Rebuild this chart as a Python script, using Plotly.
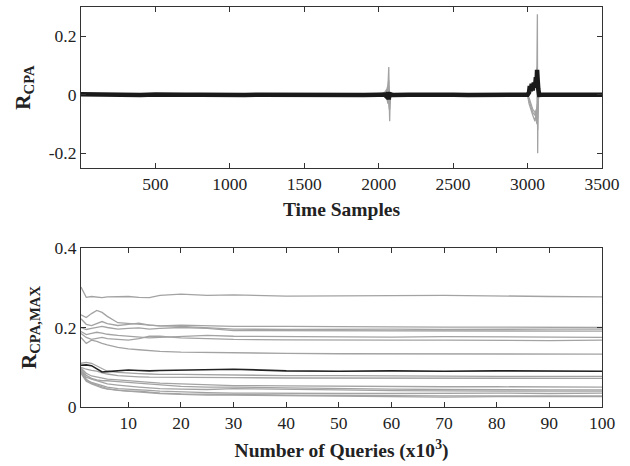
import plotly.graph_objects as go
from plotly.subplots import make_subplots

# ---- top panel: R_CPA vs time samples ----
black_t = ([1] + list(range(100, 2001, 100))
           + [2040, 2050, 2056, 2060, 2064, 2068, 2072, 2076, 2085]
           + list(range(2100, 3001, 100))
           + [3010, 3015, 3022, 3028, 3035, 3042, 3050, 3056, 3060, 3064, 3068, 3072, 3078]
           + list(range(3100, 3501, 100)))
black_r = ([0.002, 0.0005, -0.0008, 0.0006, -0.0004, 0.0007, -0.001, 0.0004, 0.0006, -0.0005, 0.0003,
            -0.0007, 0.0006, 0.0, -0.0004, 0.0006, -0.0003, 0.0004, 0.0006, -0.0006, 0.0003]
           + [0.001, -0.004, 0.006, -0.012, 0.010, -0.016, 0.008, -0.004, 0.0005]
           + [-0.0004, 0.0006, -0.0006, 0.0003, 0.0006, -0.0003, 0.0004, -0.0006, 0.0005, 0.0]
           + [0.008, 0.030, 0.012, 0.038, 0.015, 0.042, 0.025, 0.060, 0.030, 0.085, 0.050, 0.020, 0.0]
           + [0.0006, -0.0003, 0.0004, -0.0006, 0.0003])

gray_t = [1, 2000, 2030, 2045, 2055, 2062, 2068, 2071, 2074, 2078, 2090,
          3000, 3010, 3020, 3035, 3050, 3058, 3063, 3066, 3068, 3071, 3075, 3090, 3500]
gray_r = [
    [0, 0, 0, 0.005, 0.01, 0.02, 0.095, -0.02, -0.09, 0, 0,
     0, 0.01, 0.02, 0.03, 0.04, 0.06, 0.10, 0.275, -0.20, 0.02, 0, 0, 0],
    [0, 0, 0.005, 0.01, 0.02, 0.03, 0.05, -0.03, -0.05, 0, 0,
     0, -0.01, -0.03, -0.05, -0.06, -0.08, -0.10, -0.06, -0.12, -0.02, 0, 0, 0],
    [0, 0, 0, 0.01, 0.015, 0.02, 0.03, -0.02, -0.03, 0, 0,
     0, -0.02, -0.04, -0.06, -0.07, -0.05, -0.08, 0.05, -0.08, 0, 0, 0, 0],
    [0, 0, 0, 0, 0.01, -0.02, 0.02, -0.04, -0.02, 0, 0,
     0, 0.02, 0.03, 0.02, 0.04, 0.06, 0.09, 0.02, -0.05, 0, 0, 0, 0],
    [0, 0, 0, 0.005, -0.01, -0.03, -0.01, -0.05, 0.0, 0, 0,
     0, -0.03, -0.05, -0.07, -0.09, -0.06, -0.04, -0.03, -0.06, 0, 0, 0, 0],
]

# ---- bottom panel: R_CPA,MAX vs number of queries (x10^3) ----
queries = [1, 2, 3, 4, 5, 6, 8, 10, 12, 14, 16, 20, 25, 30, 40, 50, 60, 70, 80, 90, 100]
rmax_gray = [
    [0.302, 0.276, 0.278, 0.276, 0.275, 0.277, 0.277, 0.278, 0.276, 0.275, 0.281, 0.284, 0.281, 0.282, 0.279, 0.279, 0.280, 0.281, 0.279, 0.278, 0.277],
    [0.232, 0.225, 0.235, 0.243, 0.238, 0.228, 0.212, 0.210, 0.208, 0.205, 0.204, 0.206, 0.205, 0.203, 0.203, 0.202, 0.202, 0.201, 0.201, 0.200, 0.200],
    [0.222, 0.208, 0.205, 0.210, 0.215, 0.210, 0.205, 0.208, 0.211, 0.206, 0.204, 0.203, 0.200, 0.196, 0.195, 0.196, 0.196, 0.195, 0.196, 0.196, 0.196],
    [0.200, 0.195, 0.198, 0.200, 0.203, 0.200, 0.196, 0.198, 0.199, 0.196, 0.198, 0.200, 0.198, 0.192, 0.192, 0.192, 0.191, 0.192, 0.191, 0.192, 0.191],
    [0.190, 0.182, 0.185, 0.188, 0.186, 0.183, 0.180, 0.178, 0.176, 0.174, 0.175, 0.178, 0.180, 0.178, 0.177, 0.176, 0.176, 0.177, 0.176, 0.175, 0.175],
    [0.185, 0.175, 0.170, 0.172, 0.175, 0.172, 0.170, 0.168, 0.172, 0.178, 0.178, 0.174, 0.172, 0.170, 0.169, 0.168, 0.168, 0.168, 0.167, 0.167, 0.168],
    [0.175, 0.160, 0.168, 0.165, 0.160, 0.156, 0.150, 0.146, 0.144, 0.142, 0.140, 0.138, 0.137, 0.136, 0.135, 0.134, 0.134, 0.134, 0.134, 0.133, 0.133],
    [0.110, 0.112, 0.110, 0.104, 0.096, 0.090, 0.087, 0.085, 0.084, 0.083, 0.082, 0.082, 0.081, 0.080, 0.079, 0.079, 0.078, 0.078, 0.077, 0.077, 0.077],
    [0.100, 0.095, 0.092, 0.090, 0.086, 0.083, 0.079, 0.077, 0.076, 0.075, 0.075, 0.074, 0.074, 0.074, 0.073, 0.073, 0.072, 0.072, 0.072, 0.072, 0.072],
    [0.098, 0.085, 0.078, 0.075, 0.072, 0.070, 0.068, 0.066, 0.064, 0.062, 0.060, 0.058, 0.056, 0.054, 0.053, 0.052, 0.052, 0.051, 0.051, 0.051, 0.050],
    [0.095, 0.080, 0.072, 0.068, 0.066, 0.066, 0.064, 0.062, 0.060, 0.058, 0.055, 0.052, 0.050, 0.050, 0.048, 0.046, 0.045, 0.044, 0.043, 0.043, 0.043],
    [0.092, 0.075, 0.070, 0.066, 0.062, 0.058, 0.055, 0.052, 0.050, 0.048, 0.046, 0.045, 0.044, 0.046, 0.045, 0.043, 0.041, 0.040, 0.040, 0.040, 0.040],
    [0.088, 0.068, 0.062, 0.058, 0.054, 0.050, 0.046, 0.045, 0.044, 0.042, 0.040, 0.038, 0.036, 0.035, 0.034, 0.034, 0.034, 0.035, 0.035, 0.034, 0.035],
    [0.085, 0.065, 0.058, 0.052, 0.048, 0.045, 0.042, 0.040, 0.040, 0.038, 0.035, 0.033, 0.032, 0.031, 0.030, 0.029, 0.028, 0.028, 0.028, 0.028, 0.028],
    [0.090, 0.070, 0.060, 0.055, 0.050, 0.046, 0.042, 0.040, 0.038, 0.036, 0.034, 0.032, 0.030, 0.030, 0.029, 0.028, 0.026, 0.025, 0.026, 0.026, 0.026],
]
rmax_black = [0.105, 0.106, 0.104, 0.095, 0.088, 0.089, 0.091, 0.093, 0.092, 0.091, 0.092, 0.093, 0.094, 0.095, 0.091, 0.090, 0.091, 0.090, 0.091, 0.090, 0.090]

FONT = "Liberation Serif"
GRAY = "#a3a3a3"
XTITLE_FONT = dict(family=FONT, size=19.5, color="#222222")
YTITLE_FONT = dict(family=FONT, size=21, color="#222222")

fig = make_subplots(rows=2, cols=1, vertical_spacing=0.2)

for ys in gray_r:
    fig.add_trace(go.Scatter(x=gray_t, y=ys, mode="lines",
                             line=dict(color=GRAY, width=1.3)), row=1, col=1)
fig.add_trace(go.Scatter(x=black_t, y=black_r, mode="lines",
                         line=dict(color="#1a1a1a", width=4.5)), row=1, col=1)

for ys in rmax_gray:
    fig.add_trace(go.Scatter(x=queries, y=ys, mode="lines",
                             line=dict(color=GRAY, width=1.3)), row=2, col=1)
fig.add_trace(go.Scatter(x=queries, y=rmax_black, mode="lines",
                         line=dict(color="#222222", width=1.6)), row=2, col=1)

axis_style = dict(showline=True, linecolor="#333333", linewidth=1.2, mirror="ticks",
                  ticks="inside", ticklen=5, tickcolor="#333333", showgrid=False,
                  zeroline=False, automargin=False,
                  tickfont=dict(family=FONT, size=17.5, color="#222222"))

fig.update_xaxes(**axis_style)
fig.update_yaxes(**axis_style)

fig.update_xaxes(range=[1, 3500], tickvals=[500, 1000, 1500, 2000, 2500, 3000, 3500],
                 title=dict(text="<b>Time Samples</b>", standoff=9, font=XTITLE_FONT),
                 row=1, col=1)
fig.update_yaxes(range=[-0.25, 0.3], tickvals=[-0.2, 0, 0.2], ticktext=["-0.2", "0", "0.2"],
                 title=dict(text="<b>R<sub>CPA</sub></b>", standoff=12, font=YTITLE_FONT),
                 domain=[0.5975, 1], row=1, col=1)
fig.update_xaxes(range=[1, 100], tickvals=list(range(10, 101, 10)),
                 title=dict(text="<b>Number of Queries (x10<sup>3</sup>)</b>", standoff=11,
                            font=XTITLE_FONT),
                 row=2, col=1)
fig.update_yaxes(range=[0, 0.4], tickvals=[0, 0.2, 0.4], ticktext=["0", "0.2", "0.4"],
                 title=dict(text="<b>R<sub>CPA,MAX</sub></b>", standoff=12, font=YTITLE_FONT),
                 domain=[0, 0.3975], row=2, col=1)

fig.update_layout(width=630, height=466, showlegend=False,
                  margin=dict(l=81, r=28, t=7, b=59),
                  paper_bgcolor="white", plot_bgcolor="white")

# drop the browser's default body margin so the figure sits at the window origin
fig.write_html("out.html", config={"displayModeBar": False},
               post_script="document.body.style.margin='0';")
